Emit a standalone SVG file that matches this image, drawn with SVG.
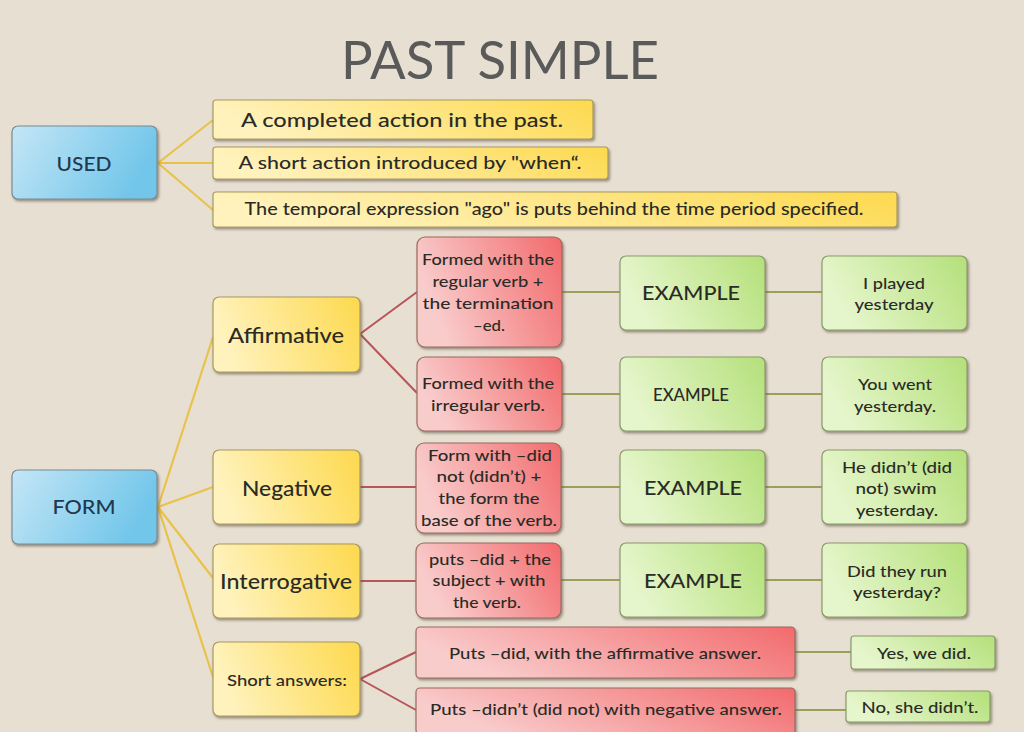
<svg xmlns="http://www.w3.org/2000/svg" width="1024" height="732" viewBox="0 0 1024 732">
<defs>
<linearGradient id="gBlue" x1="0" y1="0" x2="1" y2="0.3"><stop offset="0" stop-color="#c4e6f6"/><stop offset="1" stop-color="#72c6ea"/></linearGradient>
<linearGradient id="gYel" x1="0" y1="0.2" x2="1" y2="0"><stop offset="0" stop-color="#fff2bc"/><stop offset="1" stop-color="#fdd94e"/></linearGradient>
<linearGradient id="gRed" x1="0" y1="0.3" x2="1" y2="0"><stop offset="0" stop-color="#f9cccc"/><stop offset="1" stop-color="#f26a6c"/></linearGradient>
<linearGradient id="gGrn" x1="0" y1="0.3" x2="1" y2="0"><stop offset="0" stop-color="#e6f6cc"/><stop offset="1" stop-color="#b4e07a"/></linearGradient>
<filter id="sh" x="-10%" y="-10%" width="125%" height="135%"><feDropShadow dx="1.5" dy="2" stdDeviation="1.2" flood-color="#5a5040" flood-opacity="0.55"/></filter>
</defs>
<style>
.t{font-family:Lato,"Open Sans","Liberation Sans",sans-serif;font-weight:500;fill:#2b2b26;text-anchor:middle;dominant-baseline:central}
.bl{fill:url(#gBlue);stroke:#7a8c92;stroke-width:1.2;filter:url(#sh)}
.ye{fill:url(#gYel);stroke:#a89a60;stroke-width:1.2;filter:url(#sh)}
.re{fill:url(#gRed);stroke:#9a6a60;stroke-width:1.2;filter:url(#sh)}
.gr{fill:url(#gGrn);stroke:#8a9a6a;stroke-width:1.2;filter:url(#sh)}
.cy{stroke:#e9c24a;stroke-width:2.2;fill:none}
.cr{stroke:#b8545a;stroke-width:2;fill:none}
.cg{stroke:#9aa05a;stroke-width:2;fill:none}
</style>
<rect width="1024" height="732" fill="#e7dfd1"/>
<text class="t" x="500" y="59" font-size="52" style="fill:#5a5a5a;font-weight:400" textLength="318" lengthAdjust="spacingAndGlyphs">PAST SIMPLE</text>

<g id="connectors">
<path class="cy" d="M158 163 L213 120 M158 163 L213 163 M158 163 L213 210"/>
<path class="cy" d="M158 507 L213 337 M158 507 L213 487 M158 507 L213 578 M158 507 L213 677"/>
<path class="cr" d="M360 334 L417 292 M360 334 L417 393 M360 487 L416 487 M360 581 L416 581 M360 679 L416 652 M360 679 L416 710"/>
<path class="cg" d="M562 292 L620 292 M765 292 L822 292 M562 394 L620 394 M765 394 L822 394 M561 487 L620 487 M765 487 L822 487 M561 580 L620 580 M765 580 L822 580 M795 652 L851 652 M795 710 L846 710"/>
</g>

<g id="used"><rect class="bl" x="12" y="126" width="145" height="73" rx="6"/><text class="t" x="84" y="163" font-size="20" style="fill:#22384c" textLength="55" lengthAdjust="spacingAndGlyphs">USED</text></g>
<g id="u1"><rect class="ye" x="213" y="100" width="380" height="39" rx="3"/><text class="t" x="402" y="119" font-size="20" textLength="322" lengthAdjust="spacingAndGlyphs">A completed action in the past.</text></g>
<g id="u2"><rect class="ye" x="213" y="147" width="395" height="32" rx="3"/><text class="t" x="410" y="162" font-size="17.5" textLength="343" lengthAdjust="spacingAndGlyphs">A short action introduced by "when“.</text></g>
<g id="u3"><rect class="ye" x="213" y="192" width="684" height="35" rx="3"/><text class="t" x="554" y="209" font-size="16.5" textLength="619" lengthAdjust="spacingAndGlyphs">The temporal expression "ago" is puts behind the time period specified.</text></g>

<g id="form"><rect class="bl" x="12" y="470" width="145" height="74" rx="6"/><text class="t" x="84" y="506" font-size="20" style="fill:#22384c" textLength="63" lengthAdjust="spacingAndGlyphs">FORM</text></g>
<g id="affirmative"><rect class="ye" x="213" y="297" width="147" height="75" rx="6"/><text class="t" x="286" y="334" font-size="21" textLength="116" lengthAdjust="spacingAndGlyphs">Affirmative</text></g>
<g id="negative"><rect class="ye" x="213" y="450" width="147" height="74" rx="6"/><text class="t" x="287" y="487" font-size="21" textLength="90" lengthAdjust="spacingAndGlyphs">Negative</text></g>
<g id="interrogative"><rect class="ye" x="213" y="544" width="147" height="74" rx="6"/><text class="t" x="286" y="580" font-size="21" textLength="132" lengthAdjust="spacingAndGlyphs">Interrogative</text></g>
<g id="short"><rect class="ye" x="213" y="642" width="147" height="74" rx="6"/><text class="t" x="287" y="679" font-size="16" textLength="120" lengthAdjust="spacingAndGlyphs">Short answers:</text></g>

<g id="r1"><rect class="re" x="417" y="237" width="145" height="110" rx="8"/><text class="t" font-size="15.5"><tspan x="488" y="259" textLength="132" lengthAdjust="spacingAndGlyphs">Formed with the</tspan><tspan x="488" y="281" textLength="111" lengthAdjust="spacingAndGlyphs">regular verb +</tspan><tspan x="488" y="303" textLength="131" lengthAdjust="spacingAndGlyphs">the  termination</tspan><tspan x="489" y="325" textLength="32" lengthAdjust="spacingAndGlyphs">–ed.</tspan></text></g>
<g id="r2"><rect class="re" x="417" y="357" width="145" height="74" rx="8"/><text class="t" font-size="15.5"><tspan x="488" y="383" textLength="132" lengthAdjust="spacingAndGlyphs">Formed with the</tspan><tspan x="488" y="405" textLength="114" lengthAdjust="spacingAndGlyphs">irregular verb.</tspan></text></g>
<g id="r3"><rect class="re" x="416" y="443" width="145" height="90" rx="8"/><text class="t" font-size="15.5"><tspan x="490" y="455" textLength="124" lengthAdjust="spacingAndGlyphs">Form with –did</tspan><tspan x="489" y="476" textLength="105" lengthAdjust="spacingAndGlyphs">not (didn’t) +</tspan><tspan x="489" y="498" textLength="101" lengthAdjust="spacingAndGlyphs">the form the</tspan><tspan x="489" y="520" textLength="136" lengthAdjust="spacingAndGlyphs">base of the verb.</tspan></text></g>
<g id="r4"><rect class="re" x="416" y="543" width="145" height="75" rx="8"/><text class="t" font-size="15.5"><tspan x="490" y="559" textLength="122" lengthAdjust="spacingAndGlyphs">puts –did + the</tspan><tspan x="489" y="580" textLength="113" lengthAdjust="spacingAndGlyphs">subject + with</tspan><tspan x="487" y="602" textLength="68" lengthAdjust="spacingAndGlyphs">the verb.</tspan></text></g>
<g id="r5"><rect class="re" x="416" y="627" width="379" height="51" rx="4"/><text class="t" x="605" y="652" font-size="16" textLength="312" lengthAdjust="spacingAndGlyphs">Puts –did, with the affirmative answer.</text></g>
<g id="r6"><rect class="re" x="416" y="688" width="379" height="46" rx="4"/><text class="t" x="606" y="708" font-size="16" textLength="352" lengthAdjust="spacingAndGlyphs">Puts –didn’t (did not) with negative answer.</text></g>

<g id="e1"><rect class="gr" x="620" y="256" width="145" height="74" rx="6"/><text class="t" x="691" y="292" font-size="20" textLength="98" lengthAdjust="spacingAndGlyphs">EXAMPLE</text></g>
<g id="e2"><rect class="gr" x="620" y="357" width="145" height="74" rx="6"/><text class="t" x="691" y="394" font-size="17" textLength="76" lengthAdjust="spacingAndGlyphs">EXAMPLE</text></g>
<g id="e3"><rect class="gr" x="620" y="450" width="145" height="74" rx="6"/><text class="t" x="693" y="487" font-size="20" textLength="98" lengthAdjust="spacingAndGlyphs">EXAMPLE</text></g>
<g id="e4"><rect class="gr" x="620" y="543" width="145" height="74" rx="6"/><text class="t" x="693" y="580" font-size="20" textLength="98" lengthAdjust="spacingAndGlyphs">EXAMPLE</text></g>

<g id="x1"><rect class="gr" x="822" y="256" width="145" height="74" rx="6"/><text class="t" font-size="16"><tspan x="894" y="282" textLength="62" lengthAdjust="spacingAndGlyphs">I played</tspan><tspan x="894" y="303" textLength="79" lengthAdjust="spacingAndGlyphs">yesterday</tspan></text></g>
<g id="x2"><rect class="gr" x="822" y="357" width="145" height="74" rx="6"/><text class="t" font-size="16"><tspan x="895" y="383" textLength="74" lengthAdjust="spacingAndGlyphs">You went</tspan><tspan x="895" y="405" textLength="82" lengthAdjust="spacingAndGlyphs">yesterday.</tspan></text></g>
<g id="x3"><rect class="gr" x="822" y="450" width="145" height="74" rx="6"/><text class="t" font-size="16"><tspan x="897" y="466" textLength="110" lengthAdjust="spacingAndGlyphs">He didn’t (did</tspan><tspan x="896" y="487" textLength="81" lengthAdjust="spacingAndGlyphs">not) swim</tspan><tspan x="897" y="509" textLength="82" lengthAdjust="spacingAndGlyphs">yesterday.</tspan></text></g>
<g id="x4"><rect class="gr" x="822" y="543" width="145" height="74" rx="6"/><text class="t" font-size="16"><tspan x="897" y="570" textLength="100" lengthAdjust="spacingAndGlyphs">Did they run</tspan><tspan x="897" y="591" textLength="88" lengthAdjust="spacingAndGlyphs">yesterday?</tspan></text></g>
<g id="x5"><rect class="gr" x="851" y="636" width="144" height="33" rx="3"/><text class="t" x="924" y="652" font-size="16" textLength="94" lengthAdjust="spacingAndGlyphs">Yes, we did.</text></g>
<g id="x6"><rect class="gr" x="846" y="691" width="144" height="31" rx="3"/><text class="t" x="920" y="706" font-size="16" textLength="117" lengthAdjust="spacingAndGlyphs">No, she didn’t.</text></g>
</svg>
